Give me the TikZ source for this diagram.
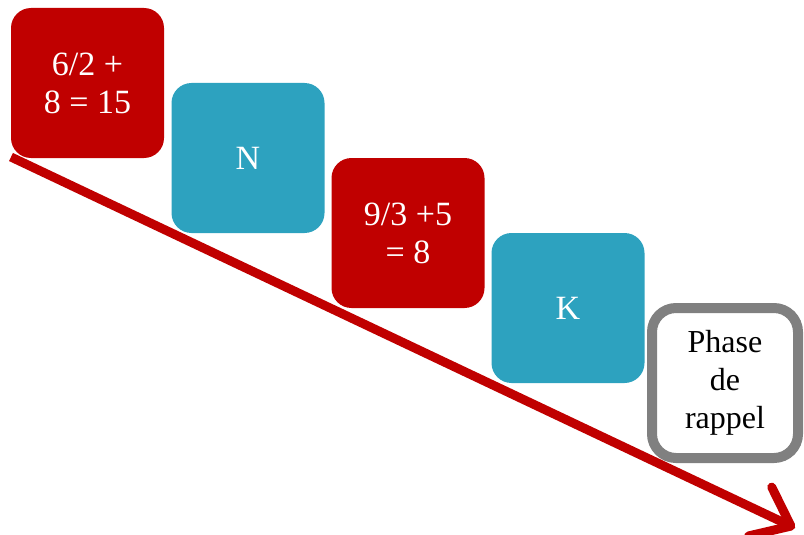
\documentclass[tikz,border=0pt]{standalone}
\usepackage{fontspec}
\setmainfont{Liberation Serif}
\usetikzlibrary{arrows.meta}
\definecolor{boxred}{HTML}{C00000}
\definecolor{boxteal}{HTML}{2DA2BF}
\definecolor{boxgray}{HTML}{808080}
\tikzset{
  card/.style={rounded corners=20pt, minimum width=153pt, minimum height=150pt,
    inner sep=0pt, align=center, text=white,
    font=\fontsize{34}{38}\selectfont},
  redcard/.style={card, fill=boxred},
  tealcard/.style={card, fill=boxteal},
  recallcard/.style={card, fill=white, draw=boxgray, line width=10pt,
    rounded corners=24pt, minimum width=146pt, minimum height=150pt, text=black,
    font=\fontsize{32}{38}\selectfont},
  timearrow/.style={draw=boxred, line width=9pt,
    -{Straight Barb[length=34pt, width=54pt, round]}}
}
\begin{document}
\begin{tikzpicture}[x=1pt, y=-1pt]
\useasboundingbox (0,0) rectangle (804,535);
\coordinate (start) at (11,157);
\coordinate (tip) at (795,528);
\draw[timearrow] (start) -- (tip);
\node[redcard]  (b1) at (87.5,83)  {6/2 +\\8 = 15};
\node[tealcard] (b2) at (248,158)  {N};
\node[redcard]  (b3) at (408,233)  {9/3 +5\\= 8};
\node[tealcard] (b4) at (568,308)  {K};
\node[recallcard] (b5) at (725,383) {Phase\\de\\rappel};
\end{tikzpicture}
\end{document}
